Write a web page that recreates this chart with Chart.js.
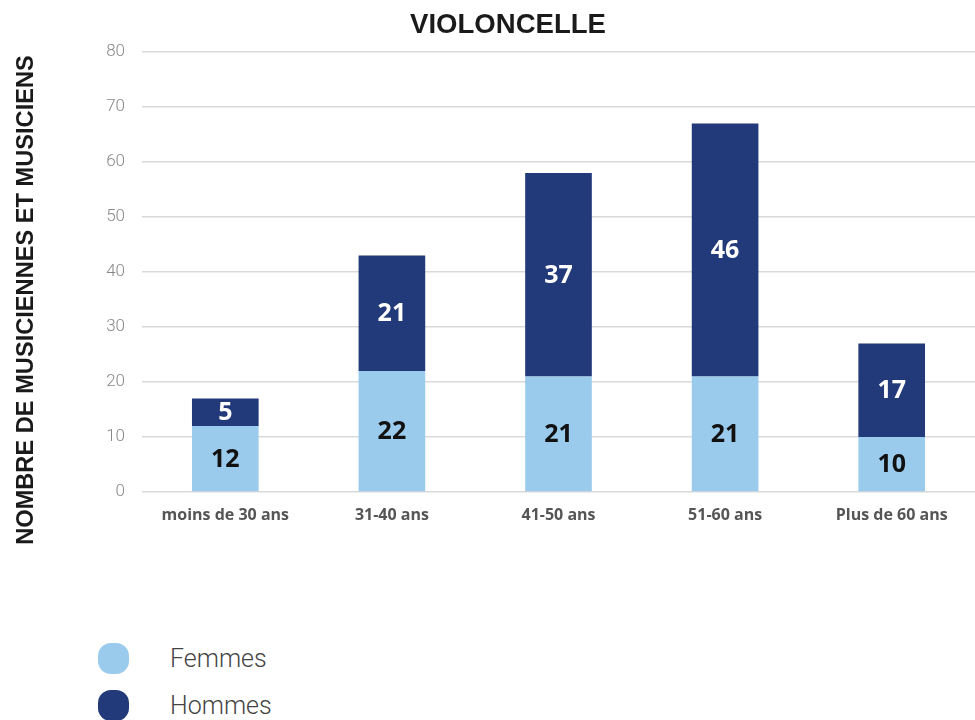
<!DOCTYPE html>
<html>
<head>
<meta charset="utf-8">
<script src="https://cdn.jsdelivr.net/npm/chart.js@4/dist/chart.umd.min.js"></script>
<style>
  html, body { margin: 0; padding: 0; background: #fff; }
  #wrap { position: relative; width: 975px; height: 720px; }
  #c { position: absolute; left: 0; top: 0; }
  .leg { position: absolute; left: 98px; display: flex; align-items: center; font-family: Roboto, "Open Sans", sans-serif; font-weight: 300; font-size: 25px; color: #444; }
  .sw { width: 31px; height: 31px; border-radius: 13px; margin-right: 41px; }
</style>
</head>
<body>
<div id="wrap">
  <canvas id="c" width="975" height="560"></canvas>
  <div class="leg" style="top:643px"><div class="sw" style="background:#9ACBEC"></div><span>Femmes</span></div>
  <div class="leg" style="top:690px"><div class="sw" style="background:#22397A"></div><span>Hommes</span></div>
</div>
<script>
const categories = ['moins de 30 ans', '31-40 ans', '41-50 ans', '51-60 ans', 'Plus de 60 ans'];
const femmes = [12, 22, 21, 21, 10];
const hommes = [5, 21, 37, 46, 17];
const yMax = 80;
const yStep = 10;
const chartTitle = 'VIOLONCELLE';
const yTitle = 'NOMBRE DE MUSICIENNES ET MUSICIENS';

const COL_F = '#9ACBEC';
const COL_H = '#22397A';
const HEAD_FAM = '"Liberation Sans", Arial, sans-serif';
const NUM_FAM = '"Open Sans", "Noto Sans", sans-serif';

function fitFont(ctx, text, targetWidth, family) {
  ctx.font = 'bold 20px ' + family;
  const w = ctx.measureText(text).width;
  const size = 20 * targetWidth / w;
  ctx.font = 'bold ' + size.toFixed(2) + 'px ' + family;
}

const labelPlugin = {
  id: 'labels',
  afterDatasetsDraw(chart) {
    const ctx = chart.ctx;
    ctx.save();
    ctx.font = 'bold 25px ' + NUM_FAM;
    ctx.textAlign = 'center';
    ctx.textBaseline = 'middle';
    chart.data.datasets.forEach((ds, di) => {
      const meta = chart.getDatasetMeta(di);
      meta.data.forEach((bar, i) => {
        const v = ds.data[i];
        const p = bar.getProps(['x', 'y', 'base'], true);
        ctx.fillStyle = di === 0 ? '#111' : '#fff';
        ctx.fillText(String(v), p.x, (p.y + p.base) / 2 + 1);
      });
    });
    ctx.restore();
  },
  afterDraw(chart) {
    const ctx = chart.ctx;
    ctx.save();
    ctx.fillStyle = '#1a1a1a';
    ctx.textAlign = 'center';
    ctx.textBaseline = 'middle';
    fitFont(ctx, chartTitle, 196, HEAD_FAM);
    ctx.fillText(chartTitle, 508, 25);
    ctx.translate(26, 300);
    ctx.rotate(-Math.PI / 2);
    fitFont(ctx, yTitle, 490, HEAD_FAM);
    ctx.fillText(yTitle, 0, 0);
    ctx.restore();
  }
};

new Chart(document.getElementById('c'), {
  type: 'bar',
  data: {
    labels: categories,
    datasets: [
      { label: 'Femmes', data: femmes, backgroundColor: COL_F, barPercentage: 0.4, categoryPercentage: 1 },
      { label: 'Hommes', data: hommes, backgroundColor: COL_H, barPercentage: 0.4, categoryPercentage: 1 }
    ]
  },
  options: {
    responsive: false,
    animation: false,
    layout: { padding: { top: 52, right: 0, bottom: 0, left: 0 } },
    plugins: { legend: { display: false }, tooltip: { enabled: false }, title: { display: false } },
    scales: {
      x: {
        stacked: true,
        grid: { display: false, drawTicks: false },
        border: { display: false },
        ticks: { color: '#555', padding: 14, font: { family: NUM_FAM, size: 16, weight: 'bold' } },
        afterFit(s) { s.height = 68; }
      },
      y: {
        stacked: true,
        min: 0, max: yMax,
        grid: { color: '#d9d9d9', lineWidth: 1.5, drawTicks: false },
        border: { display: false },
        ticks: { stepSize: yStep, color: '#888', padding: 17, font: { family: 'Roboto, sans-serif', size: 17, weight: 300 } },
        afterFit(s) { s.width = 142; }
      }
    }
  },
  plugins: [labelPlugin]
});
</script>
</body>
</html>
